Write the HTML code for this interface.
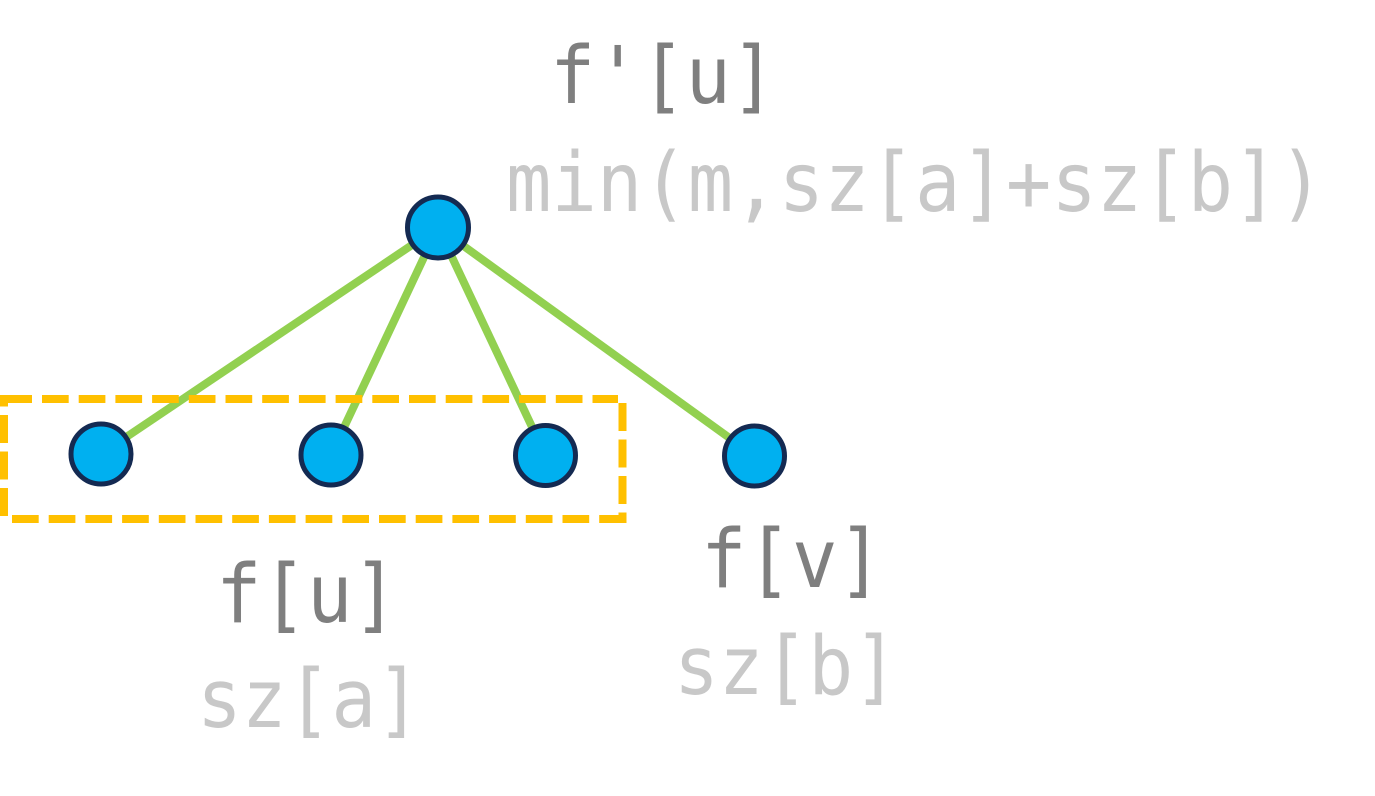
<!DOCTYPE html>
<html>
<head>
<meta charset="utf-8">
<style>
  html, body { margin: 0; padding: 0; background: #ffffff; }
  body { width: 1375px; height: 796px; overflow: hidden; }
  svg { display: block; }
  text { font-family: "DejaVu Sans Mono", "Liberation Mono", monospace; }
</style>
</head>
<body>
<svg width="1375" height="796" viewBox="0 0 1375 796" xmlns="http://www.w3.org/2000/svg">
  <rect x="0" y="0" width="1375" height="796" fill="#ffffff"/>

  <!-- green edges -->
  <g stroke="#92d050" stroke-width="8" stroke-linecap="butt">
    <line x1="438" y1="227.5" x2="101" y2="454"/>
    <line x1="438" y1="227.5" x2="331" y2="455"/>
    <line x1="438" y1="227.5" x2="545.5" y2="455.5"/>
    <line x1="438" y1="227.5" x2="754.5" y2="456"/>
  </g>

  <!-- dashed yellow rectangle -->
  <g stroke="#ffc000" stroke-width="8" fill="none" stroke-linecap="butt">
    <line x1="0.5" y1="399" x2="618" y2="399" stroke-dasharray="26.7 10" stroke-dashoffset="31.9"/>
    <rect x="0" y="395" width="32" height="8" fill="#ffc000" stroke="none"/>
    <line x1="622.5" y1="403" x2="622.5" y2="523" stroke-dasharray="28 8.5"/>
    <line x1="12" y1="519" x2="626" y2="519" stroke-dasharray="26.7 10"/>
    <line x1="4" y1="396" x2="4" y2="517" stroke-dasharray="28 8.5" stroke-dashoffset="17.5"/>
  </g>

  <!-- nodes -->
  <g fill="#00b0f0" stroke="#142a52" stroke-width="5">
    <circle cx="438" cy="227.5" r="30.5"/>
    <circle cx="101" cy="454" r="30"/>
    <circle cx="331" cy="455" r="30"/>
    <circle cx="545.5" cy="455.5" r="30"/>
    <circle cx="754.5" cy="456" r="30"/>
  </g>

  <!-- labels (slightly stretched vertically to match taller glyphs) -->
  <g transform="translate(0,103) scale(1,1.04) translate(0,-103)">
    <text x="663" y="103" font-size="76" fill="#7f7f7f" text-anchor="middle" textLength="226" lengthAdjust="spacingAndGlyphs">f'[u]</text>
  </g>
  <g transform="translate(0,211) scale(1,1.04) translate(0,-211)">
    <text x="915" y="211" font-size="79" fill="#c8c8c8" text-anchor="middle" textLength="818" lengthAdjust="spacingAndGlyphs">min(m,sz[a]+sz[b])</text>
  </g>

  <g transform="translate(0,622) scale(1,1.04) translate(0,-622)">
    <text x="307" y="622" font-size="78" fill="#7f7f7f" text-anchor="middle" textLength="182" lengthAdjust="spacingAndGlyphs">f[u]</text>
  </g>
  <g transform="translate(0,727) scale(1,1.04) translate(0,-727)">
    <text x="309" y="727" font-size="78" fill="#c8c8c8" text-anchor="middle" textLength="224" lengthAdjust="spacingAndGlyphs">sz[a]</text>
  </g>

  <g transform="translate(0,587) scale(1,1.04) translate(0,-587)">
    <text x="792" y="587" font-size="78" fill="#7f7f7f" text-anchor="middle" textLength="182" lengthAdjust="spacingAndGlyphs">f[v]</text>
  </g>
  <g transform="translate(0,694) scale(1,1.04) translate(0,-694)">
    <text x="786" y="694" font-size="78" fill="#c8c8c8" text-anchor="middle" textLength="224" lengthAdjust="spacingAndGlyphs">sz[b]</text>
  </g>
</svg>
</body>
</html>
